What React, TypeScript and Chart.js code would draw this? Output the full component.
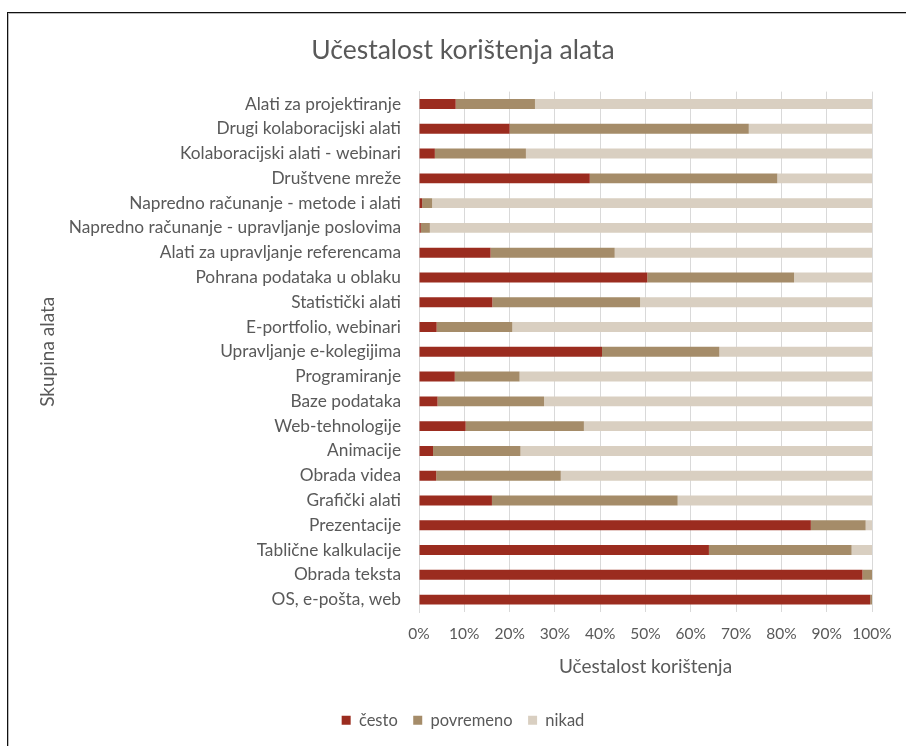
import React, { useEffect, useRef } from 'react';
import { Chart, registerables } from 'chart.js';

Chart.register(...registerables);

const FONT = 'Lato';
const TEXT = '#595959';

const chartTitle = 'Učestalost korištenja alata';
const xAxisTitle = 'Učestalost korištenja';
const yAxisTitle = 'Skupina alata';

const categories = [
  'Alati za projektiranje',
  'Drugi kolaboracijski alati',
  'Kolaboracijski alati - webinari',
  'Društvene mreže',
  'Napredno računanje - metode i alati',
  'Napredno računanje - upravljanje poslovima',
  'Alati za upravljanje referencama',
  'Pohrana podataka u oblaku',
  'Statistički alati',
  'E-portfolio, webinari',
  'Upravljanje e-kolegijima',
  'Programiranje',
  'Baze podataka',
  'Web-tehnologije',
  'Animacije',
  'Obrada videa',
  'Grafički alati',
  'Prezentacije',
  'Tablične kalkulacije',
  'Obrada teksta',
  'OS, e-pošta, web',
];

const cesto = [8.1, 20.0, 3.5, 37.7, 0.7, 0.4, 15.8, 50.4, 16.2, 3.9, 40.4, 7.9, 4.1, 10.3, 3.1, 3.8, 16.1, 86.5, 64.0, 97.9, 99.6];
const povremeno = [17.5, 52.8, 20.1, 41.4, 2.2, 2.0, 27.4, 32.4, 32.6, 16.7, 25.9, 14.3, 23.5, 26.1, 19.3, 27.5, 41.0, 12.1, 31.5, 2.1, 0.4];
const nikad = [74.4, 27.2, 76.4, 20.9, 97.1, 97.6, 56.8, 17.2, 51.2, 79.4, 33.7, 77.8, 72.4, 63.6, 77.6, 68.7, 42.9, 1.4, 4.5, 0, 0];

const seriesNames = ['često', 'povremeno', 'nikad'];
const seriesColors = ['#9B2C1F', '#A58C69', '#D9CFC1'];

export default function App() {
  const canvasRef = useRef<HTMLCanvasElement | null>(null);

  useEffect(() => {
    const canvas = canvasRef.current;
    if (!canvas) return;
    const values = [cesto, povremeno, nikad];
    const chart = new Chart(canvas, {
      type: 'bar',
      data: {
        labels: categories,
        datasets: seriesNames.map((name, i) => ({
          label: name,
          data: values[i],
          backgroundColor: seriesColors[i],
          borderWidth: 0,
          barPercentage: 0.4,
          categoryPercentage: 1,
        })),
      },
      options: {
        indexAxis: 'y',
        responsive: false,
        animation: false,
        layout: { padding: { top: 0, left: 0, right: 0, bottom: 7.5 } },
        plugins: {
          title: {
            display: true,
            text: chartTitle,
            color: TEXT,
            font: { family: FONT, size: 26.5, weight: 'normal' },
            padding: { top: 34.1, bottom: 25.7 },
          },
          legend: {
            position: 'bottom',
            labels: {
              boxWidth: 9,
              boxHeight: 9,
              color: TEXT,
              padding: 15.5,
              font: { family: FONT, size: 16.5 },
            },
          },
          tooltip: { enabled: false },
        },
        scales: {
          x: {
            stacked: true,
            min: 0,
            max: 100,
            position: 'bottom',
            grid: { color: '#D9D9D9', drawTicks: false, lineWidth: 1 },
            border: { display: false },
            ticks: {
              stepSize: 10,
              padding: 13,
              maxRotation: 0,
              minRotation: 0,
              autoSkip: false,
              color: TEXT,
              font: { family: FONT, size: 15.5 },
              callback: (v: any) => `${v}%`,
            },
            title: {
              display: true,
              text: xAxisTitle,
              color: TEXT,
              font: { family: FONT, size: 19 },
              padding: { top: 0, bottom: 18.1 },
            },
            afterFit: (s: any) => {
              s.height = 84.5;
            },
          },
          y: {
            stacked: true,
            grid: { display: false, drawTicks: false },
            border: { display: true, color: '#D9D9D9' },
            ticks: {
              padding: 18,
              color: TEXT,
              autoSkip: false,
              font: { family: FONT, size: 17.3 },
            },
            title: {
              display: true,
              text: yAxisTitle,
              color: TEXT,
              font: { family: FONT, size: 19 },
              padding: { top: 36.6, bottom: 0 },
            },
            afterFit: (s: any) => {
              s.width = 419;
            },
          },
          yRight: {
            type: 'category',
            position: 'right',
            display: true,
            grid: { display: false, drawTicks: false },
            border: { display: false },
            ticks: { display: false },
            afterFit: (s: any) => {
              s.width = 54;
            },
          },
        },
      },
    } as any);
    return () => chart.destroy();
  }, []);

  return (
    <div
      style={{
        position: 'fixed',
        left: 0,
        top: 0,
        width: 906,
        height: 746,
        overflow: 'hidden',
        background: '#fff',
      }}
    >
      <canvas ref={canvasRef} width={926} height={746} style={{ position: 'absolute', left: 0, top: 0 }} />
      <div
        style={{
          position: 'absolute',
          left: 7,
          top: 12,
          width: 1000,
          height: 1000,
          borderLeft: '1px solid #111',
          borderTop: '1px solid #111',
          boxShadow: 'inset 1px 1px 0 #BBBBBB',
          pointerEvents: 'none',
        }}
      />
    </div>
  );
}
